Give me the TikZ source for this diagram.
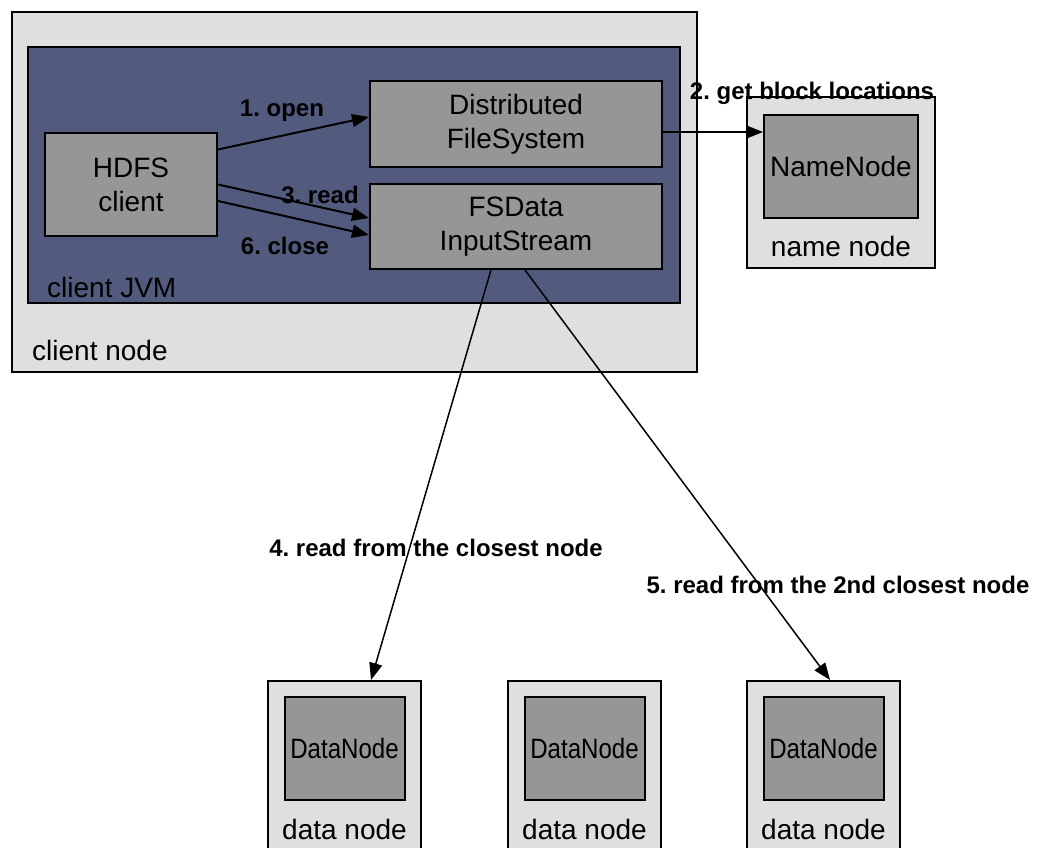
\documentclass[tikz,border=0pt]{standalone}
\usepackage{fontspec}
\setmainfont{Liberation Sans}
\usetikzlibrary{positioning,arrows.meta}
\definecolor{hostgray}{HTML}{DFDFDF}
\definecolor{jvmblue}{HTML}{525A7E}
\definecolor{procgray}{HTML}{969696}
\newcommand\boxfont{\fontsize{28}{34}\selectfont}
\newcommand\narrowboxfont{\fontsize{28}{34}\selectfont\addfontfeature{FakeStretch=0.86}}
\newcommand\stepfont{\fontsize{24}{28}\selectfont\bfseries}
\tikzset{host/.style={draw,line width=2pt,fill=hostgray,inner sep=0pt},
            proc/.style={draw,line width=2pt,fill=procgray,align=center,font=\boxfont,inner sep=0pt},
            hostlabel/.style={inner sep=0pt,font=\boxfont},
            steplabel/.style={inner sep=0pt,font=\stepfont},
            flow/.style={-{Triangle[length=17pt,width=13pt]},line width=2pt},
            longflow/.style={-{Triangle[length=17pt,width=13pt]},line width=1.5pt},
            }

\begin{document}
\frenchspacing
\begin{tikzpicture}[x=1pt,y=-1pt]
    \clip (0,0) rectangle (1061,848);
    % client side
    \node[host,minimum width=685pt,minimum height=360pt] (client) at (354.5,192) {};
    \node[draw,line width=2pt,fill=jvmblue,minimum width=652pt,minimum height=256pt] (jvm) at (354,175) {};
    \node[proc,minimum width=172pt,minimum height=103pt] (hdfs) at (131,184.5) {HDFS\\client};
    \node[proc,minimum width=292pt,minimum height=86pt] (dfs) at (516,124) {Distributed\\FileSystem};
    \node[proc,minimum width=292pt,minimum height=85pt] (fsd) [below=15pt of dfs] {FSData\\InputStream};
    \node[hostlabel] (jvmtext) [above right=6pt and 20pt of jvm.south west] {client JVM};
    \node[hostlabel] (clienttext) [above right=12pt and 21pt of client.south west] {client node};

    % name node
    \node[host,minimum width=188pt,minimum height=171pt] (namehost) at (841,182.5) {};
    \node[proc,minimum width=154pt,minimum height=103pt] (nn) [below=18pt of namehost.north] {NameNode};
    \node[hostlabel] (nntext) at (841,246) {name node};

    % data nodes
    \node[host,minimum width=153pt,minimum height=180pt] (dhost1) at (344.5,771) {};
    \node[host,minimum width=153pt,minimum height=180pt] (dhost2) [right=85pt of dhost1] {};
    \node[host,minimum width=153pt,minimum height=180pt] (dhost3) [right=84pt of dhost2] {};
    \foreach \i in {1,2,3} {
      \node[proc,font=\narrowboxfont,minimum width=120pt,minimum height=103pt] (dn\i) [below=16pt of dhost\i.north] {DataNode};
      \node[hostlabel] (dtext\i) [below=18pt of dn\i] {data node};
    }

    % calls
    \draw[flow] ([yshift=35pt]hdfs.east) -- ([yshift=7pt]dfs.west);
    \draw[flow] (hdfs.east) -- ([yshift=8.5pt]fsd.west);
    \draw[flow] ([yshift=-16.5pt]hdfs.east) -- ([yshift=-8.5pt]fsd.west);
    \draw[flow] ([yshift=-8pt]dfs.east) -- ([yshift=-8pt]dfs.east -| nn.west);
    \draw[longflow] ([xshift=-25pt]fsd.south) -- ([xshift=26.5pt]dhost1.north);
    \draw[longflow] ([xshift=9pt]fsd.south) -- ([xshift=6.5pt]dhost3.north);

    \node[steplabel] (lopen) at (282,111) {1. open};
    \node[steplabel] (lread) at (320,195) {3. read};
    \node[steplabel] (lclose) at (285,246) {6. close};
    \node[steplabel] (lget) at (812,93) {2. get block locations};
    \node[steplabel] (lclosest) at (436,548) {4. read from the closest node};
    \node[steplabel] (lsecond) at (838,585) {5. read from the 2nd closest node};
\end{tikzpicture}
\end{document}
